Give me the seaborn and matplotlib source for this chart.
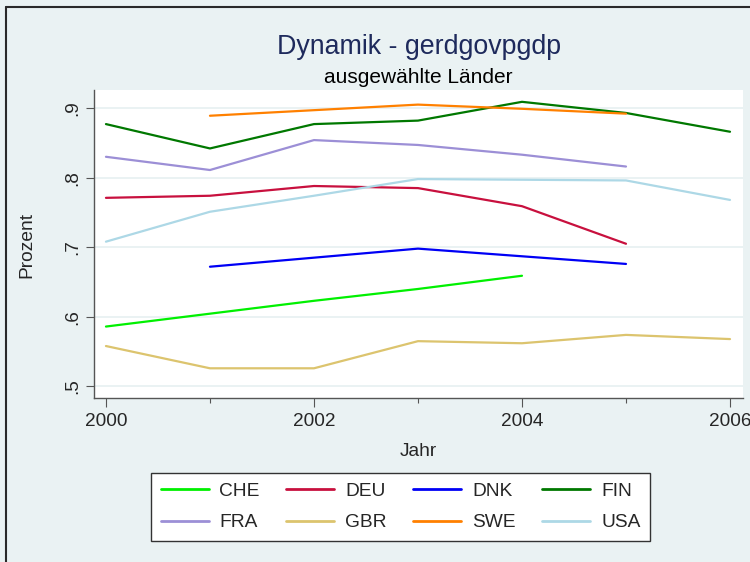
import matplotlib
matplotlib.use("Agg")
import matplotlib.pyplot as plt
from matplotlib.lines import Line2D
from matplotlib.ticker import FixedLocator
import seaborn as sns
import pandas as pd

# Jahreswerte je Land (None = kein Wert)
years = [2000, 2001, 2002, 2003, 2004, 2005, 2006]
che = [0.586, 0.6045, 0.623, 0.640, 0.659, None, None]
deu = [0.771, 0.774, 0.788, 0.785, 0.759, 0.705, None]
dnk = [None, 0.672, 0.685, 0.698, 0.687, 0.676, None]
fin = [0.877, 0.842, 0.877, 0.882, 0.909, 0.893, 0.866]
fra = [0.830, 0.811, 0.854, 0.847, 0.833, 0.816, None]
gbr = [0.558, 0.526, 0.526, 0.565, 0.562, 0.574, 0.568]
swe = [None, 0.889, 0.897, 0.905, 0.899, 0.892, None]
usa = [0.708, 0.751, 0.774, 0.798, 0.797, 0.796, 0.768]

countries = ["CHE", "DEU", "DNK", "FIN", "FRA", "GBR", "SWE", "USA"]
series = [che, deu, dnk, fin, fra, gbr, swe, usa]
colors = ["#00F000", "#C8103E", "#0000F5", "#007800",
          "#9C8FD6", "#DCC46E", "#FF8000", "#ADD8E6"]

y_ticks = [0.5, 0.6, 0.7, 0.8, 0.9]
y_ticklabels = [".5", ".6", ".7", ".8", ".9"]
x_major = [2000, 2002, 2004, 2006]
x_minor = [2001, 2003, 2005]

rows = []
for land, vals in zip(countries, series):
    for yr, v in zip(years, vals):
        if v is not None:
            rows.append({"Jahr": yr, "Wert": v, "Land": land})
df = pd.DataFrame(rows)

sns.set_style("white")
plt.rcParams["font.family"] = ["Liberation Sans", "DejaVu Sans"]

W, H = 750, 562
bg = "#EAF2F3"
fig = plt.figure(figsize=(W / 100, H / 100), dpi=100, facecolor=bg)

# Plotbereich in Pixelkoordinaten
left, right, top, bottom = 94, 743, 90, 398
ax = fig.add_axes([left / W, 1 - bottom / H, (right - left) / W, (bottom - top) / H])
ax.set_facecolor("white")

sns.lineplot(data=df, x="Jahr", y="Wert", hue="Land", hue_order=countries,
             palette=dict(zip(countries, colors)), linewidth=1.6, ax=ax,
             legend=True)

handles, labels = ax.get_legend_handles_labels()
ax.get_legend().remove()

ax.set_xlim(1999.885, 2006.125)
ax.set_ylim(0.4833, 0.926)

ax.yaxis.set_major_locator(FixedLocator(y_ticks))
ax.set_yticklabels(y_ticklabels, rotation=90, va="center")
ax.xaxis.set_major_locator(FixedLocator(x_major))
ax.xaxis.set_minor_locator(FixedLocator(x_minor))
ax.set_xticklabels([str(x) for x in x_major])

ax.grid(axis="y", color=bg, linewidth=1.4)
ax.grid(axis="x", visible=False)
ax.set_axisbelow(True)

for s in ["top", "right"]:
    ax.spines[s].set_visible(False)
for s in ["left", "bottom"]:
    ax.spines[s].set_color("#555555")
    ax.spines[s].set_linewidth(1.0)

ax.tick_params(axis="y", which="major", direction="out", length=5.8, width=0.8,
               color="#555555", labelsize=13.7, pad=3.5, left=True)
ax.tick_params(axis="x", which="major", direction="out", length=6.5, width=0.8,
               color="#555555", labelsize=13.7, pad=4.3, bottom=True)
ax.tick_params(axis="x", which="minor", direction="out", length=3.6, width=0.8,
               color="#555555", bottom=True)

ax.set_xlabel("")
ax.set_ylabel("")
fig.text(27 / W, 1 - 245 / H, "Prozent", rotation=90, ha="center", va="center",
         fontsize=13.8)
fig.text(418.5 / W, 1 - 452 / H, "Jahr", ha="center", va="center", fontsize=13.8)

fig.text(419.5 / W, 1 - 54.3 / H, "Dynamik - gerdgovpgdp", ha="center",
         va="baseline", fontsize=19.3, color="#1E2A5C")
fig.text(418.5 / W, 1 - 83.3 / H, "ausgewählte Länder", ha="center",
         va="baseline", fontsize=15.0, color="black")

# Legende zeilenweise füllen (4 Spalten, 2 Zeilen)
ncol = 4
order = [r * ncol + c for c in range(ncol) for r in range(2)]
leg = fig.legend([handles[i] for i in order], [labels[i] for i in order],
                 loc="upper left", bbox_to_anchor=(151 / W, 1 - 473 / H),
                 ncol=ncol, fontsize=13.8, handlelength=2.5, handletextpad=0.56,
                 columnspacing=1.4, labelspacing=0.72, borderpad=0.5,
                 borderaxespad=0, frameon=True, fancybox=False)
leg.get_frame().set_edgecolor("#333333")
leg.get_frame().set_linewidth(1.0)
leg.get_frame().set_facecolor("white")
leg.get_frame().set_alpha(1)
for h in leg.legend_handles:
    h.set_linewidth(2.0)

# äußerer Rahmen
fig.add_artist(Line2D([5.5 / W, 5.5 / W], [0, 1 - 7 / H], transform=fig.transFigure,
                      color="#2a2a2a", linewidth=1.5))
fig.add_artist(Line2D([5.5 / W, 1], [1 - 7 / H, 1 - 7 / H], transform=fig.transFigure,
                      color="#2a2a2a", linewidth=1.5))

fig.savefig("out.png", dpi=100, facecolor=bg)
